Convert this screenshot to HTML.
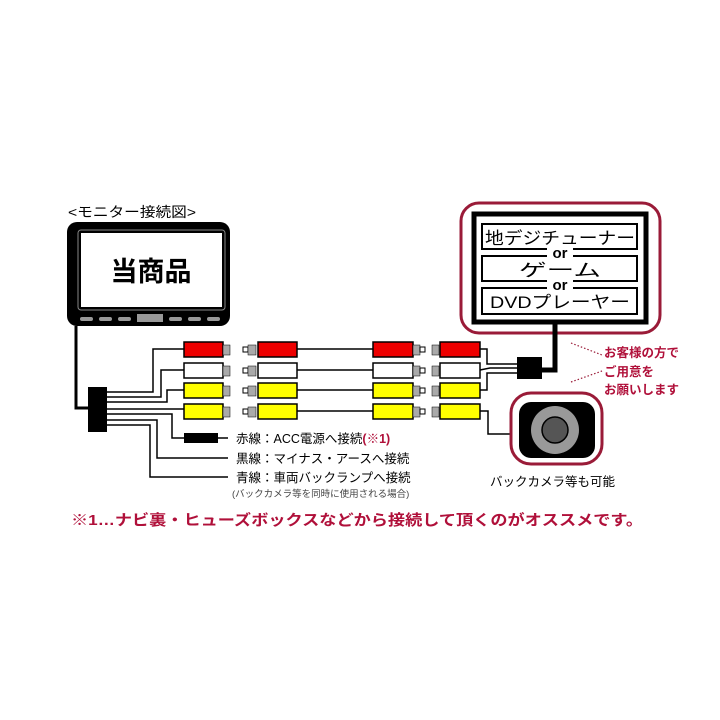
<!DOCTYPE html>
<html><head><meta charset="utf-8"><style>
html,body{margin:0;padding:0;background:#fff;width:720px;height:720px;overflow:hidden}
svg{display:block}
text{font-family:"Liberation Sans","Noto Sans CJK JP",sans-serif}
</style></head><body>
<svg width="720" height="720" viewBox="0 0 720 720" xmlns="http://www.w3.org/2000/svg">
<text x="68" y="217" font-size="14" fill="#000" textLength="128" lengthAdjust="spacingAndGlyphs">&lt;モニター接続図&gt;</text>
<!-- monitor -->
<rect x="67" y="222" width="163" height="104" rx="10" fill="#000"/>
<rect x="78" y="230" width="147" height="80" rx="3" fill="none" stroke="#888" stroke-width="1"/>
<rect x="81" y="233" width="141" height="74" fill="#fff"/>
<text x="151" y="281" font-size="27" font-weight="bold" text-anchor="middle" fill="#000">当商品</text>
<g fill="#999">
<rect x="80" y="317" width="13" height="4" rx="2"/><rect x="99" y="317" width="13" height="4" rx="2"/><rect x="118" y="317" width="13" height="4" rx="2"/>
<rect x="137" y="314" width="26" height="8"/>
<rect x="169" y="317" width="13" height="4" rx="2"/><rect x="188" y="317" width="13" height="4" rx="2"/><rect x="207" y="317" width="13" height="4" rx="2"/>
</g>
<!-- wires -->
<g fill="none" stroke="#000" stroke-width="1.5">
<polyline points="76,326 76,408 88,408" stroke-width="3"/>
<polyline points="107,392 153,392 153,349 184,349"/>
<polyline points="107,397 161,397 161,370 184,370"/>
<polyline points="107,402 167,402 167,390 184,390"/>
<polyline points="107,409 184,409"/>
<polyline points="107,414 172,414 172,438 184,438"/>
<polyline points="107,420 157,420 157,458 228,458"/>
<polyline points="107,425 150,425 150,477 228,477"/>
<line x1="218" y1="438" x2="228" y2="438"/>
<line x1="297" y1="349" x2="373" y2="349"/><line x1="297" y1="370" x2="373" y2="370"/>
<line x1="297" y1="390" x2="373" y2="390"/><line x1="297" y1="411" x2="373" y2="411"/>
<polyline points="480,349 487,349 487,364 517,364"/>
<polyline points="480,370 490,368 517,368"/>
<polyline points="480,390 487,390 487,373 517,373"/>
<polyline points="480,411 488,411 488,434 512,434"/>
</g>
<rect x="88" y="387" width="19" height="45" fill="#000"/>
<rect x="184" y="433" width="34" height="10" fill="#000"/>
<!-- plugs -->
<g stroke="#000" stroke-width="1.5">
<g>
<rect x="184" y="342" width="39" height="15" fill="#e00"/><rect x="223" y="345" width="7" height="10" fill="#aaa" stroke-width="0.5"/>
<rect x="243" y="347" width="5" height="5" fill="#fff" stroke-width="1"/><rect x="248" y="345" width="8" height="10" fill="#aaa" stroke-width="0.5"/>
<rect x="258" y="342" width="39" height="15" fill="#e00"/>
<rect x="373" y="342" width="40" height="15" fill="#e00"/><rect x="413" y="345" width="7" height="10" fill="#aaa" stroke-width="0.5"/><rect x="420" y="347" width="5" height="5" fill="#fff" stroke-width="1"/>
<rect x="432" y="345" width="7" height="10" fill="#aaa" stroke-width="0.5"/><rect x="440" y="342" width="40" height="15" fill="#e00"/>
</g>
<g transform="translate(0,21)">
<rect x="184" y="342" width="39" height="15" fill="#fff"/><rect x="223" y="345" width="7" height="10" fill="#aaa" stroke-width="0.5"/>
<rect x="243" y="347" width="5" height="5" fill="#fff" stroke-width="1"/><rect x="248" y="345" width="8" height="10" fill="#aaa" stroke-width="0.5"/>
<rect x="258" y="342" width="39" height="15" fill="#fff"/>
<rect x="373" y="342" width="40" height="15" fill="#fff"/><rect x="413" y="345" width="7" height="10" fill="#aaa" stroke-width="0.5"/><rect x="420" y="347" width="5" height="5" fill="#fff" stroke-width="1"/>
<rect x="432" y="345" width="7" height="10" fill="#aaa" stroke-width="0.5"/><rect x="440" y="342" width="40" height="15" fill="#fff"/>
</g>
<g transform="translate(0,41)">
<rect x="184" y="342" width="39" height="15" fill="#ff0"/><rect x="223" y="345" width="7" height="10" fill="#aaa" stroke-width="0.5"/>
<rect x="243" y="347" width="5" height="5" fill="#fff" stroke-width="1"/><rect x="248" y="345" width="8" height="10" fill="#aaa" stroke-width="0.5"/>
<rect x="258" y="342" width="39" height="15" fill="#ff0"/>
<rect x="373" y="342" width="40" height="15" fill="#ff0"/><rect x="413" y="345" width="7" height="10" fill="#aaa" stroke-width="0.5"/><rect x="420" y="347" width="5" height="5" fill="#fff" stroke-width="1"/>
<rect x="432" y="345" width="7" height="10" fill="#aaa" stroke-width="0.5"/><rect x="440" y="342" width="40" height="15" fill="#ff0"/>
</g>
<g transform="translate(0,62)">
<rect x="184" y="342" width="39" height="15" fill="#ff0"/><rect x="223" y="345" width="7" height="10" fill="#aaa" stroke-width="0.5"/>
<rect x="243" y="347" width="5" height="5" fill="#fff" stroke-width="1"/><rect x="248" y="345" width="8" height="10" fill="#aaa" stroke-width="0.5"/>
<rect x="258" y="342" width="39" height="15" fill="#ff0"/>
<rect x="373" y="342" width="40" height="15" fill="#ff0"/><rect x="413" y="345" width="7" height="10" fill="#aaa" stroke-width="0.5"/><rect x="420" y="347" width="5" height="5" fill="#fff" stroke-width="1"/>
<rect x="432" y="345" width="7" height="10" fill="#aaa" stroke-width="0.5"/><rect x="440" y="342" width="40" height="15" fill="#ff0"/>
</g>
</g>
<!-- labels -->
<text x="236" y="443" font-size="12.5" fill="#000">赤線：ACC電源へ接続<tspan fill="#b0103a" font-weight="bold">(※1)</tspan></text>
<text x="236" y="463" font-size="12.5" fill="#000">黒線：マイナス・アースへ接続</text>
<text x="236" y="482" font-size="12.5" fill="#000">青線：車両バックランプへ接続</text>
<text x="232" y="497" font-size="9.5" fill="#444">(バックカメラ等を同時に使用される場合)</text>
<text x="71" y="525" font-size="15" font-weight="bold" fill="#b0103a" textLength="572" lengthAdjust="spacingAndGlyphs">※1…ナビ裏・ヒューズボックスなどから接続して頂くのがオススメです。</text>
<!-- device -->
<rect x="461" y="203" width="199" height="130" rx="18" fill="none" stroke="#9a1b38" stroke-width="3"/>
<rect x="474" y="214" width="172" height="108" fill="#fff" stroke="#000" stroke-width="5"/>
<g fill="#fff" stroke="#000" stroke-width="2">
<rect x="482" y="224" width="155" height="25"/><rect x="482" y="256" width="155" height="25"/><rect x="482" y="288" width="155" height="26"/>
</g>
<rect x="547" y="246" width="26" height="13" fill="#fff"/><rect x="547" y="278" width="26" height="13" fill="#fff"/>
<text x="560" y="244" font-size="17" text-anchor="middle" textLength="150" lengthAdjust="spacingAndGlyphs">地デジチューナー</text>
<text x="560" y="258" font-size="15" font-weight="bold" text-anchor="middle">or</text>
<text x="560" y="276" font-size="17" text-anchor="middle" textLength="82" lengthAdjust="spacingAndGlyphs">ゲーム</text>
<text x="560" y="290" font-size="15" font-weight="bold" text-anchor="middle">or</text>
<text x="560" y="308" font-size="17" text-anchor="middle" textLength="140" lengthAdjust="spacingAndGlyphs">DVDプレーヤー</text>
<polyline points="530,370 555,370 555,322" fill="none" stroke="#000" stroke-width="5"/>
<rect x="517" y="357" width="25" height="22" fill="#000"/>
<g stroke="#9a1b38" stroke-width="1.2" stroke-dasharray="1.5,2">
<line x1="571" y1="343" x2="602" y2="355"/><line x1="571" y1="382" x2="602" y2="371"/>
</g>
<g font-size="12.5" font-weight="bold" fill="#b0103a">
<text x="604" y="357">お客様の方で</text><text x="604" y="376">ご用意を</text><text x="604" y="394">お願いします</text>
</g>
<!-- camera -->
<rect x="511" y="393" width="91" height="71" rx="20" fill="none" stroke="#9a1b38" stroke-width="3"/>
<rect x="519" y="402" width="76" height="56" rx="12" fill="#000"/>
<circle cx="555" cy="430" r="24" fill="#999"/>
<circle cx="555" cy="430" r="13" fill="#555" stroke="#000" stroke-width="1.5"/>
<text x="490" y="486" font-size="12.5" fill="#000">バックカメラ等も可能</text>
</svg>
</body></html>
